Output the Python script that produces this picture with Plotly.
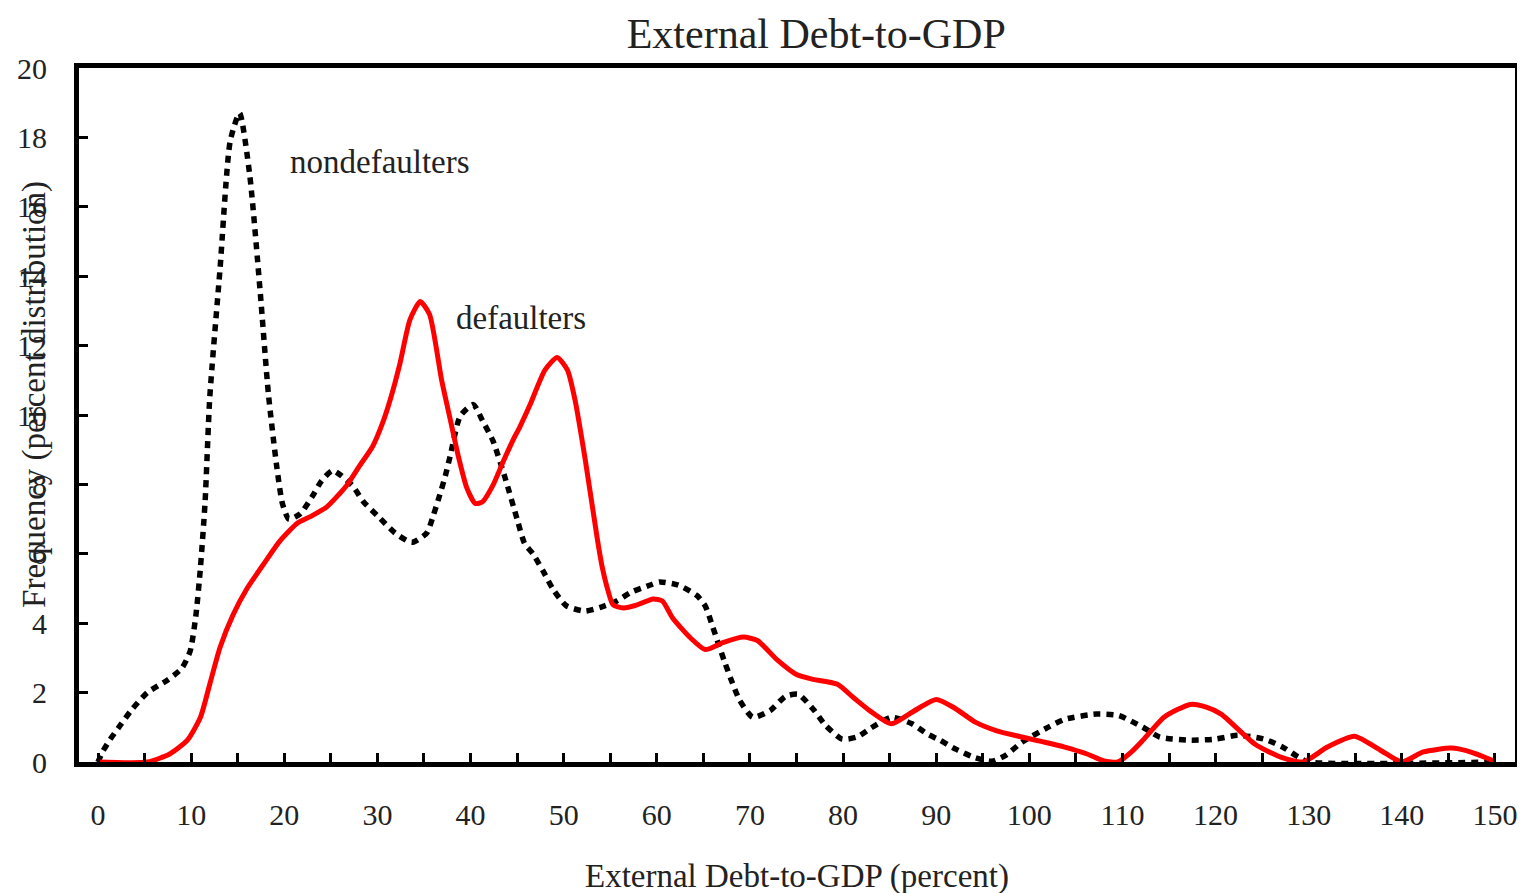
import plotly.graph_objects as go

# Nondefaulters (dotted black)
nd_x = [0, 0.5, 1.3, 2.4, 3.6, 5.3, 7.4, 9.0, 9.9, 10.5, 11.0, 11.5, 12.0, 13.1, 14.2, 15.2,
        16.3, 17.4, 18.3, 19.2, 19.8, 20.5, 21.7, 23.0, 24.0, 25.2, 27.3, 28.5, 30.0, 31.9,
        33.7, 35.3, 36.0, 36.7, 37.3, 37.8, 38.9, 40.3, 41.3, 42.4, 43.7, 45.0, 45.8, 46.7,
        47.8, 48.9, 50.3, 52.3, 54.4, 55.7, 57.3, 59.3, 60.3, 62.3, 64.3, 65.2, 66.0, 66.5,
        67.3, 68.1, 68.9, 70.3, 72.2, 73.8, 75.2, 76.8, 78.1, 79.9, 81.5, 83.0, 85.2, 87.4,
        89.1, 90.4, 92.1, 94.0, 96.0, 97.5, 99.2, 102.0, 103.8, 107.2, 109.6, 112.2, 114.0,
        117.3, 120.0, 122.4, 125.2, 127.2, 128.9, 130.0, 150.0]
nd_y = [0, 0.3, 0.65, 1.06, 1.5, 2.0, 2.35, 2.7, 3.2, 4.2, 5.6, 7.5, 10.5, 14.2, 17.9, 18.7,
        16.9, 13.6, 10.6, 8.5, 7.45, 7.0, 7.15, 7.65, 8.1, 8.4, 7.97, 7.5, 7.1, 6.6,
        6.33, 6.6, 7.1, 7.7, 8.25, 8.8, 9.97, 10.3, 9.83, 9.26, 8.2, 7.0, 6.3, 6.0,
        5.5, 4.96, 4.5, 4.35, 4.5, 4.64, 4.9, 5.1, 5.19, 5.1, 4.8, 4.5, 3.9, 3.5,
        2.87, 2.29, 1.78, 1.29, 1.49, 1.89, 1.95, 1.52, 1.06, 0.66, 0.72, 0.98, 1.29, 1.1,
        0.8, 0.63, 0.37, 0.14, 0.02, 0.2, 0.57, 1.0, 1.23, 1.38, 1.34, 1.0, 0.72,
        0.63, 0.66, 0.77, 0.66, 0.43, 0.14, 0.0, 0.0]

# Defaulters (solid red)
d_x = [0, 5.3, 7.7, 9.6, 11.0, 12.0, 13.1, 14.5, 16.0, 17.7, 19.5, 21.4, 22.8, 24.6, 26.7,
       28.1, 29.5, 30.6, 31.4, 32.4, 33.5, 34.6, 35.6, 36.9, 37.8, 38.7, 39.6, 40.5, 41.3,
       42.4, 43.5, 44.6, 45.3, 46.4, 48.0, 49.3, 50.4, 51.2, 52.3, 53.6, 54.1, 54.7, 55.3,
       56.4, 57.9, 59.6, 60.6, 61.7, 63.6, 65.2, 67.1, 69.3, 70.8, 72.9, 75.0, 76.8, 79.4,
       81.1, 83.0, 85.2, 87.5, 90.0, 92.0, 94.2, 96.5, 99.2, 101.5, 103.8, 106.2, 108.0,
       109.5, 111.0, 112.2, 114.5, 117.3, 119.0, 120.6, 124.2, 127.0, 129.4, 132.0, 134.9,
       137.7, 140.0, 142.3, 145.3, 147.5, 149.9]
d_y = [0, 0, 0.23, 0.63, 1.29, 2.24, 3.3, 4.24, 5.0, 5.67, 6.36, 6.88, 7.07, 7.36, 7.97,
       8.54, 9.1, 9.8, 10.46, 11.46, 12.75, 13.27, 12.9, 11.0, 9.9, 8.8, 7.9, 7.45, 7.5,
       7.97, 8.65, 9.3, 9.66, 10.3, 11.3, 11.66, 11.3, 10.46, 8.74, 6.45, 5.67, 5.0, 4.53,
       4.44, 4.53, 4.7, 4.64, 4.15, 3.58, 3.24, 3.44, 3.6, 3.5, 2.95, 2.52, 2.38, 2.24,
       1.86, 1.45, 1.1, 1.45, 1.8, 1.55, 1.15, 0.9, 0.72, 0.58, 0.43, 0.23, 0.03,
       0.0, 0.3, 0.63, 1.3, 1.66, 1.58, 1.38, 0.52, 0.14, 0.0, 0.43, 0.74,
       0.34, 0.0, 0.29, 0.4, 0.28, 0.03]

x_tick_vals = list(range(0, 151, 10))
y_tick_vals = list(range(0, 21, 2))

FONT = "Liberation Serif"
TXT = "#222222"

fig = go.Figure()
fig.add_trace(go.Scatter(x=nd_x, y=nd_y, mode="lines", name="nondefaulters",
                         line=dict(color="black", width=5.5, dash="7px,6px", shape="spline", smoothing=0.6)))
fig.add_trace(go.Scatter(x=d_x, y=d_y, mode="lines", name="defaulters",
                         line=dict(color="#ff0000", width=5, shape="spline", smoothing=0.6)))

fig.update_layout(
    width=1525, height=893,
    margin=dict(l=71, r=18, t=60, b=139),
    paper_bgcolor="white", plot_bgcolor="white",
    showlegend=False,
    font=dict(family=FONT, color=TXT),
    title=dict(text="External Debt-to-GDP", x=0.53, xanchor="center",
               y=1 - 25 / 893, yanchor="middle", font=dict(size=42, family=FONT, color=TXT)),
)
fig.update_xaxes(
    range=[-2.04, 152.15], tickvals=x_tick_vals, ticktext=[str(v) for v in x_tick_vals],
    ticks="inside", ticklen=9, tickwidth=3, tickcolor="black",
    minor=dict(dtick=5, tick0=0, ticks="inside", ticklen=9, tickwidth=3, tickcolor="black"),
    showline=True, linecolor="black", linewidth=5, mirror=True,
    showgrid=False, zeroline=False, automargin=False,
    tickfont=dict(size=30, family=FONT, color=TXT), ticklabelstandoff=22,
)
fig.update_yaxes(
    range=[0, 20], tickvals=y_tick_vals, ticktext=[str(v) for v in y_tick_vals],
    ticks="inside", ticklen=9, tickwidth=3, tickcolor="black",
    showline=True, linecolor="black", linewidth=5, mirror=True,
    showgrid=False, zeroline=False, automargin=False,
    tickfont=dict(size=30, family=FONT, color=TXT), ticklabelstandoff=21,
)

fig.add_annotation(text="External Debt-to-GDP (percent)", xref="paper", yref="paper",
                   x=0.5, y=-0.1657, xanchor="center", yanchor="middle",
                   showarrow=False, font=dict(size=33, family=FONT, color=TXT))
fig.add_annotation(text="Frequency (percent distribution)", xref="paper", yref="paper",
                   x=-0.0306, y=0.529, xanchor="center", yanchor="middle",
                   textangle=-90, showarrow=False, font=dict(size=33, family=FONT, color=TXT))
fig.add_annotation(text="nondefaulters", x=30.3, y=17.28, xref="x", yref="y",
                   showarrow=False, font=dict(size=33, family=FONT, color=TXT))
fig.add_annotation(text="defaulters", x=45.4, y=12.8, xref="x", yref="y",
                   showarrow=False, font=dict(size=33, family=FONT, color=TXT))

fig.write_html("out.html")
